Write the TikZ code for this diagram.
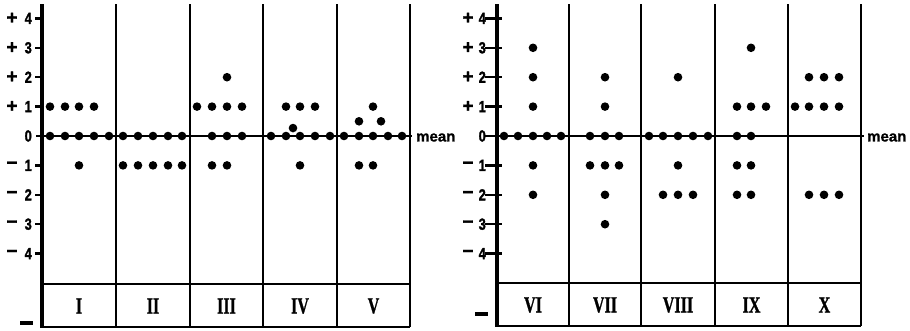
\documentclass[tikz,border=0pt]{standalone}
\usepackage{fontspec}
\usepackage{graphicx}
\setmainfont{Liberation Serif}
\newfontfamily\axfont[FakeBold=1.8]{Liberation Sans Bold}
\newfontfamily\romfont[FakeBold=1.2]{Liberation Serif Bold}
\newfontfamily\meanfont[FakeBold=1]{Liberation Sans Bold}
\tikzset{
  dotstyle/.style={fill=black},
  axisline/.style={line width=3.4pt},
  divline/.style={line width=2.4pt},
  meanline/.style={line width=2.6pt},
  boxline/.style={line width=2.2pt},
  ticklabel/.style={font=\axfont\fontsize{16}{16}\selectfont, inner sep=0pt},
  signlabel/.style={font=\axfont\fontsize{19}{19}\selectfont, inner sep=0pt},
  romlabel/.style={font=\romfont\fontsize{23}{23}\selectfont, inner sep=0pt},
  meanlabel/.style={font=\meanfont\fontsize{15}{15}\selectfont, inner sep=0pt, anchor=west},
}
\newcommand\vy[1]{136-29.4*(#1)}
\newcommand\dotrow[2]{\foreach \xx in {#2} {\fill[dotstyle] (\xx,{\vy{#1}}) circle (4.3);}}
\newcommand\romtxt[1]{\scalebox{0.7}[1]{#1}}
\newcommand\numtxt[1]{\scalebox{0.8}[1]{#1}}
\begin{document}
\begin{tikzpicture}[x=1pt,y=-1pt]
\useasboundingbox (0,0) rectangle (910,330);
% ---------- Left panel ----------
\foreach \xd in {116,190,263,337,410} {\draw[divline] (\xd,4) -- (\xd,327);}
\draw[boxline] (42,284) -- (410,284);
\draw[boxline] (42,327) -- (410,327);
\draw[meanline] (36,136) -- (412,136);
\draw[axisline] (42,4) -- (42,328);
\foreach \v/\s in {4/+,3/+,2/+,1/+,-1/−,-2/−,-3/−,-4/−} {
  \pgfmathtruncatemacro\av{abs(\v)}
  \node[signlabel] (ls\av\s) at (12,{\vy{\v}}) {\s};
  \node[ticklabel, anchor=east] (ln\av\s) at (32,{\vy{\v}}) {\numtxt{\av}};
  \draw[line width=2.4pt] (35,{\vy{\v}}) -- (42,{\vy{\v}});
}
\node[ticklabel, anchor=east] (lzero) at (32,136) {\numtxt{0}};
\node[meanlabel] (lmean) at (416,137.5) {mean};
\draw[line width=4.5pt] (20,323) -- (33,323);
% dots
\dotrow{1}{50,65,79,94}
\dotrow{0}{50,65,79,94,109}
\dotrow{-1}{79}
\dotrow{0}{123,138,153,168,182}
\dotrow{-1}{123,138,153,168,182}
\dotrow{2}{227}
\dotrow{1}{197,212,227,242}
\dotrow{0}{212,227,242}
\dotrow{-1}{212,227}
\dotrow{1}{286,300,315}
\dotrow{0.27}{293}
\dotrow{0}{271,286,300,315,330}
\dotrow{-1}{300}
\dotrow{1}{373}
\dotrow{0.5}{359,381}
\dotrow{0}{344,359,373,388,402}
\dotrow{-1}{359,373}
% roman labels
\node[romlabel] (rI) at (79,306) {\romtxt{I}};
\node[romlabel] (rII) at (153,306) {\romtxt{II}};
\node[romlabel] (rIII) at (226.5,306) {\romtxt{III}};
\node[romlabel] (rIV) at (300,306) {\romtxt{IV}};
\node[romlabel] (rV) at (373.5,306) {\romtxt{V}};
% ---------- Right panel ----------
\foreach \xd in {569,641,715,788,861} {\draw[divline] (\xd,4) -- (\xd,326);}
\draw[boxline] (497,283) -- (861,283);
\draw[boxline] (497,326) -- (861,326);
\draw[meanline] (497,136) -- (864,136);
\draw[axisline] (497,4) -- (497,327);
\foreach \v/\s in {4/+,3/+,2/+,1/+,-1/−,-2/−,-3/−,-4/−} {
  \pgfmathtruncatemacro\av{abs(\v)}
  \node[signlabel] (rs\av\s) at (468,{\vy{\v}}) {\s};
  \node[ticklabel, anchor=east] (rn\av\s) at (486,{\vy{\v}}) {\numtxt{\av}};
  \draw[line width=2.4pt] (485,{\vy{\v}}) -- (502,{\vy{\v}});
}
\node[ticklabel, anchor=east] (rzero) at (486,136) {\numtxt{0}};
\draw[line width=2.4pt] (485,136) -- (497,136);
\node[meanlabel] (rmean) at (867,137.5) {mean};
\draw[line width=4.5pt] (475,314) -- (488,314);
% dots
\dotrow{3}{533}
\dotrow{2}{533}
\dotrow{1}{533}
\dotrow{0}{504,518,533,547,561}
\dotrow{-1}{533}
\dotrow{-2}{533}
\dotrow{2}{605}
\dotrow{1}{605}
\dotrow{0}{590,605,619}
\dotrow{-1}{590,605,619}
\dotrow{-2}{605}
\dotrow{-3}{605}
\dotrow{2}{678}
\dotrow{0}{649,663,678,693,708}
\dotrow{-1}{678}
\dotrow{-2}{663,678,693}
\dotrow{3}{751}
\dotrow{1}{737,751,766}
\dotrow{0}{737,751}
\dotrow{-1}{737,751}
\dotrow{-2}{737,751}
\dotrow{2}{809,824,839}
\dotrow{1}{795,809,824,839}
\dotrow{-2}{809,824,839}
\node[romlabel] (rVI) at (533,305) {\romtxt{VI}};
\node[romlabel] (rVII) at (605,305) {\romtxt{VII}};
\node[romlabel] (rVIII) at (678,305) {\romtxt{VIII}};
\node[romlabel] (rIX) at (751.5,305) {\romtxt{IX}};
\node[romlabel] (rX) at (824.5,305) {\romtxt{X}};
\end{tikzpicture}
\end{document}
